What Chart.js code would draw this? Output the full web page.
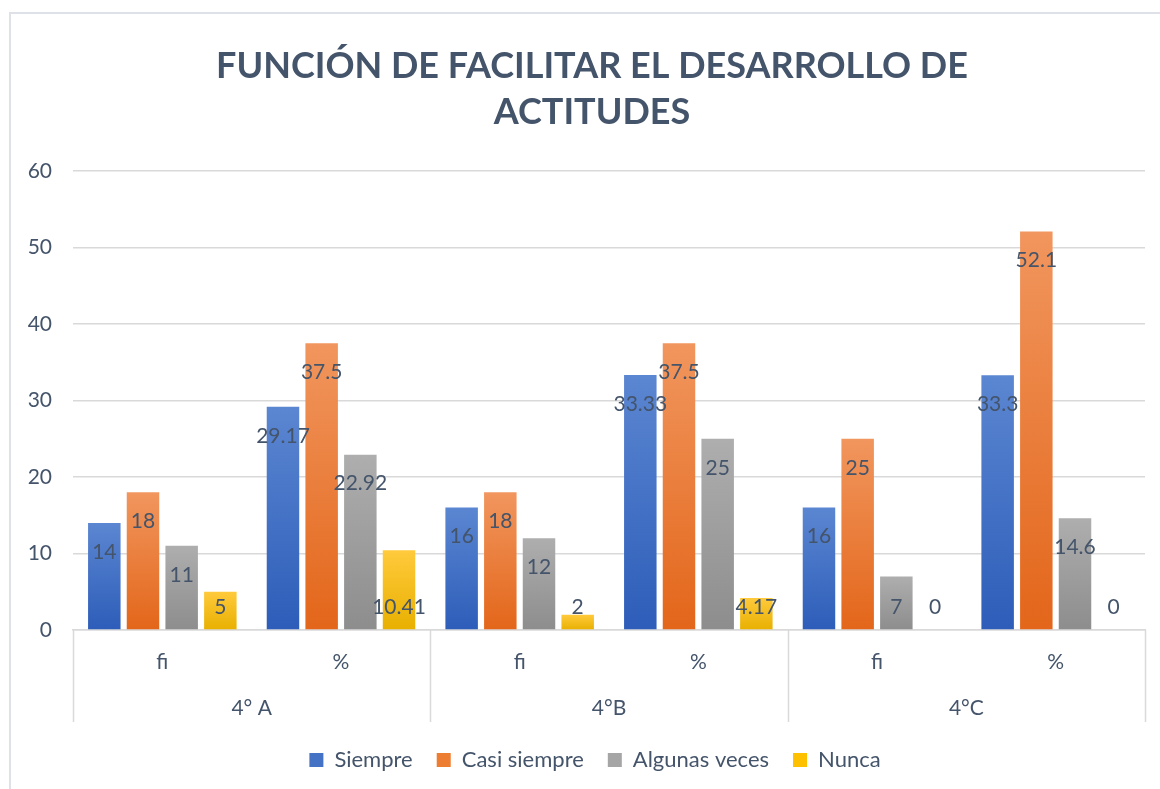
<!DOCTYPE html>
<html>
<head>
<meta charset="utf-8">
<script src="https://cdn.jsdelivr.net/npm/chart.js@4.4.1/dist/chart.umd.min.js"></script>
<style>
  html, body { margin: 0; padding: 0; background: #ffffff; overflow: hidden; }
  #wrap { position: relative; width: 1160px; height: 789px; }
  #frame { position: absolute; left: 9px; top: 12px; width: 1200px; height: 900px; border: 2px solid #DEE2E8; box-sizing: border-box; }
  canvas { position: absolute; left: 0; top: 0; }
</style>
</head>
<body>
<div id="wrap">
  <div id="frame"></div>
  <canvas id="c" width="1160" height="789"></canvas>
</div>
<script>
// ---- data ----
const categories = ['fi', '%', 'fi', '%', 'fi', '%'];
const groups = ['4° A', '4°B', '4°C'];
const seriesNames = ['Siempre', 'Casi siempre', 'Algunas veces', 'Nunca'];
const siempre = [14, 29.17, 16, 33.33, 16, 33.3];
const casiSiempre = [18, 37.5, 18, 37.5, 25, 52.1];
const algunasVeces = [11, 22.92, 12, 25, 7, 14.6];
const nunca = [5, 10.41, 2, 4.17, 0, 0];
const titleLines = ['FUNCIÓN DE FACILITAR EL DESARROLLO DE', 'ACTITUDES'];
const yMin = 0, yMax = 60, yStep = 10;

// ---- styles ----
const FONT = 'Lato, "Open Sans", sans-serif';
const TXT = '#44546A';
const GRID = '#D9D9D9';
const palette = [
  ['#5B86D1', '#2D5DB9', '#4472C4'],
  ['#F1965E', '#E3661A', '#ED7D31'],
  ['#AEAEAE', '#8D8D8D', '#A5A5A5'],
  ['#FFCA3C', '#E8B000', '#FFC000']
];

function gradFill(top, bottom) {
  return function (c) {
    const chart = c.chart;
    if (!chart.chartArea || c.type !== 'data') return bottom;
    const ys = chart.scales.y;
    const yt = ys.getPixelForValue(c.parsed.y);
    const yb = ys.getPixelForValue(0);
    if (yb - yt < 1) return bottom;
    const g = chart.ctx.createLinearGradient(0, yt, 0, yb);
    g.addColorStop(0, top);
    g.addColorStop(1, bottom);
    return g;
  };
}

const allSeries = [siempre, casiSiempre, algunasVeces, nunca];

const titleDraw = {
  id: 'titleDraw',
  afterDraw(chart) {
    const ctx = chart.ctx;
    ctx.save();
    ctx.font = 'bold 36px ' + FONT;
    ctx.fillStyle = TXT;
    ctx.textAlign = 'center';
    ctx.textBaseline = 'middle';
    titleLines.forEach((t, i) => ctx.fillText(t, 592, 66 + i * 46));
    ctx.restore();
  }
};

const legendShift = {
  id: 'legendShift',
  afterLayout(chart) {
    const lg = chart.legend;
    if (lg) { lg.left += 15; lg.right += 15; }
  }
};

const barLabels = {
  id: 'barLabels',
  afterDatasetsDraw(chart) {
    const ctx = chart.ctx;
    const ys = chart.scales.y;
    const base = ys.getPixelForValue(0);
    ctx.save();
    ctx.font = '21px ' + FONT;
    ctx.fillStyle = TXT;
    ctx.textAlign = 'center';
    ctx.textBaseline = 'middle';
    chart.data.datasets.forEach((ds, di) => {
      const meta = chart.getDatasetMeta(di);
      meta.data.forEach((el, i) => {
        const v = ds.data[i];
        const y = v < 11 ? base - 23 : el.y + 29;
        ctx.fillText(String(v), el.x, y);
      });
    });
    ctx.restore();
  }
};

const separators = {
  id: 'separators',
  afterDraw(chart) {
    const xs = chart.scales.x;
    const x2 = chart.scales.x2;
    const ctx = chart.ctx;
    const n = groups.length;
    ctx.save();
    ctx.strokeStyle = GRID;
    ctx.lineWidth = 1.5;
    for (let i = 0; i <= n; i++) {
      const x = Math.round(xs.left + i * xs.width / n) + 0.5;
      ctx.beginPath();
      ctx.moveTo(x, chart.chartArea.bottom);
      ctx.lineTo(x, x2.bottom - 3);
      ctx.stroke();
    }
    ctx.restore();
  }
};

new Chart(document.getElementById('c'), {
  type: 'bar',
  data: {
    labels: categories,
    datasets: allSeries.map((arr, k) => ({
      label: seriesNames[k],
      data: arr,
      backgroundColor: gradFill(palette[k][0], palette[k][1]),
      borderWidth: 0,
      barPercentage: 0.84,
      categoryPercentage: 0.866
    }))
  },
  options: {
    responsive: false,
    animation: false,
    layout: { padding: { left: 15, right: 15, top: 171, bottom: 8 } },
    plugins: {
      title: { display: false },
      legend: {
        position: 'bottom',
        labels: {
          color: TXT,
          font: { family: FONT, size: 22 },
          boxWidth: 14,
          boxHeight: 14,
          padding: 24,
          generateLabels(chart) {
            return chart.data.datasets.map((ds, i) => ({
              text: ds.label,
              fillStyle: palette[i][2],
              strokeStyle: palette[i][2],
              lineWidth: 0,
              hidden: false,
              datasetIndex: i,
              fontColor: TXT
            }));
          }
        }
      },
      tooltip: { enabled: false }
    },
    scales: {
      y: {
        min: yMin, max: yMax,
        ticks: { stepSize: yStep, color: TXT, font: { family: FONT, size: 21 }, padding: 21 },
        grid: { color: GRID, lineWidth: 1.5, drawTicks: false },
        border: { display: false },
        afterFit(s) { s.width = 58; }
      },
      x: {
        ticks: { color: TXT, font: { family: FONT, size: 21 }, padding: 20 },
        grid: { display: false, drawTicks: false },
        border: { display: true, color: GRID, width: 1.5 },
        afterFit(s) { s.height = 46; }
      },
      x2: {
        type: 'category',
        labels: groups,
        position: 'bottom',
        offset: true,
        ticks: { color: TXT, font: { family: FONT, size: 21 }, padding: 20 },
        grid: { display: false, drawTicks: false },
        border: { display: false },
        afterFit(s) { s.height = 49; }
      }
    }
  },
  plugins: [barLabels, separators, titleDraw, legendShift]
});
</script>
</body>
</html>
